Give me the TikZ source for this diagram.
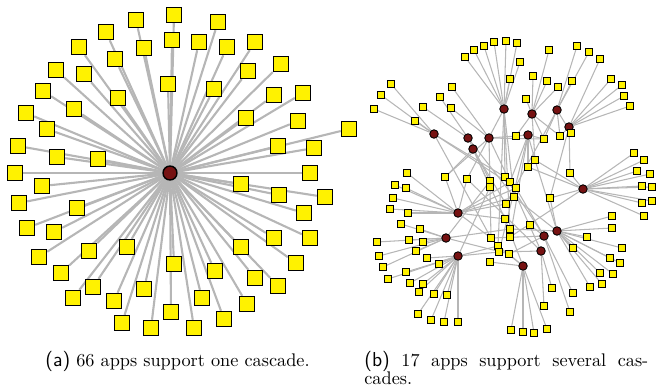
\documentclass[tikz,border=0pt]{standalone}
\usetikzlibrary{backgrounds}
\definecolor{hubred}{RGB}{118,18,18}
\definecolor{edgegray}{RGB}{182,182,182}
\newcommand{\bsz}{0.3cm}
\newcommand{\ssz}{0.14cm}
\newcommand{\sublabel}[1]{{\fontsize{11.5pt}{11.5pt}\selectfont\sffamily(#1)}}

\tikzset{
  bigapp/.style={draw=black,fill=yellow,line width=0.8pt,inner sep=0pt,minimum size=\bsz},
  smallapp/.style={draw=black,fill=yellow,line width=0.5pt,inner sep=0pt,minimum size=\ssz},
  bighub/.style={circle,draw=black,fill=hubred,line width=0.8pt,inner sep=0pt,minimum size=0.28cm},
  smallhub/.style={circle,draw=black,fill=hubred,line width=0.5pt,inner sep=0pt,minimum size=0.17cm},
  spoke/.style={draw=edgegray,line width=1.2pt},
  link/.style={draw=edgegray,line width=0.6pt},
  caption/.style={font=\fontsize{10.4pt}{10.4pt}\selectfont,inner sep=0pt,anchor=base west}
}

\begin{document}
\begin{tikzpicture}[x=0.02cm,y=-0.02cm]
\useasboundingbox (0,0) rectangle (662,390);

% (a) one cascade
\node[bighub] (hubA) at (170,173) {};
\foreach \x/\y [count=\i] in {174/15,136/20,218/22,106/32,172/40,199/42,144/48,227/47,255/42,79/47,
  115/59,56/70,84/74,281/64,248/71,168/84,214/89,43/91,118/98,274/95,
  303/93,74/109,26/113,246/118,298/121,47/129,349/129,278/146,314/148,18/146,
  57/157,98/159,310/173,15/173,42/186,241/184,279/195,325/197,19/203,77/208,
  304/213,27/228,54/232,274/238,310/238,241/247,127/247,89/251,39/257,296/263,
  174/264,61/273,215/271,255/278,278/286,93/287,144/289,73/298,114/301,202/298,
  247/304,171/312,224/319,122/323,151/328,194/328}
  \node[bigapp] (a\i) at (\x,\y) {};
\begin{pgfonlayer}{background}
\foreach \i in {1,...,66}
  \draw[spoke] (hubA) -- (a\i);
\end{pgfonlayer}

% (b) several cascades
\foreach \x/\y [count=\i] in {504/109,532/114,557/110,569/127,434/134,468/138,489/138,473/149,528/135,583/189,
  458/213,446/238,458/256,557/231,544/236,541/251,523/266}
  \node[smallhub] (c\i) at (\x,\y) {};
\foreach \x/\y [count=\i] in {465/57,474/50,484/46,494/42,506/41,517/43,520/62,510/79,526/99,533/76,
  547/81,558/87,572/81,549/50,577/46,589/52,600/59,611/79,622/85,624/96,
  630/106,391/84,381/95,374/109,415/121,423/107,440/97,452/87,451/108,516/136,
  544/139,560/136,571/133,535/160,528/167,570/173,634/153,644/160,637/171,650/174,
  642/186,652/187,407/173,395/185,406/188,445/177,467/179,490/181,505/177,510/182,
  516/188,490/187,514/197,506/204,550/198,642/203,652/201,644/216,393/198,390/209,
  408/213,401/224,420/229,377/242,409/240,423/242,379/256,416/251,427/258,383/267,
  439/264,388/279,406/272,410/283,423/284,419/292,434/294,447/295,418/314,431/320,
  444/322,458/322,505/219,510/229,510/237,491/238,498/246,499/252,509/254,490/262,
  530/225,587/237,573/248,612/216,612/228,622/248,610/258,620/263,600/273,613/274,
  590/287,602/284,552/288,573/293,544/306,570/312,511/330,523/332,534/333,547/329}
  \node[smallapp] (b\i) at (\x,\y) {};
\begin{pgfonlayer}{background}
% hub/app pairs
\foreach \h/\s in {1/1,1/2,1/3,1/4,1/5,1/6,1/7,1/8,2/9,2/10,2/11,2/12,2/14,3/13,3/15,3/16,
  4/17,4/18,4/19,4/20,4/21,5/22,5/23,5/24,5/25,6/26,6/27,7/28,7/29,9/30,9/31,3/32,4/33,
  9/34,9/35,10/36,10/37,10/38,10/39,10/40,10/41,10/42,10/56,10/57,10/58,
  11/43,11/44,11/45,11/46,11/47,11/53,11/54,14/55,11/59,11/60,11/61,
  12/62,12/63,12/64,12/65,12/66,12/67,12/68,12/70,13/69,13/71,13/72,13/73,13/74,13/75,
  13/76,13/77,13/78,13/79,13/80,13/81,13/82,15/91,14/92,14/93,14/94,14/95,14/96,14/97,
  14/98,14/99,14/100,14/101,14/102,16/103,15/104,16/105,15/106,
  17/107,17/108,17/109,17/110,17/90,
  5/49,5/51,5/86,6/48,6/53,7/30,7/31,7/46,7/50,7/86,8/46,8/52,8/83,8/54,
  1/47,1/49,1/84,1/53,1/87,9/50,9/88,9/85,2/30,2/31,2/34,2/32,3/33,3/31,3/54,
  4/32,4/36,4/55,10/35,10/34,10/85,10/55,11/50,11/51,11/83,11/86,12/89,12/84,12/48,
  13/87,13/88,13/52,14/53,14/84,14/34,15/86,15/51,15/49,15/89,16/88,16/47,16/50,
  17/89,17/87,17/83}
  \draw[link] (c\h) -- (b\s);
\end{pgfonlayer}

% captions
\node[caption] (capA) at (45,366) {\sublabel{a} 66 apps support one cascade.};
\node[caption] (capB) at (364,366)
  {\makebox[5.68cm][s]{\sublabel{b} 17 apps support several cas-}};
\node[caption] (capB2) at (364,384) {cades.};
\end{tikzpicture}
\end{document}
